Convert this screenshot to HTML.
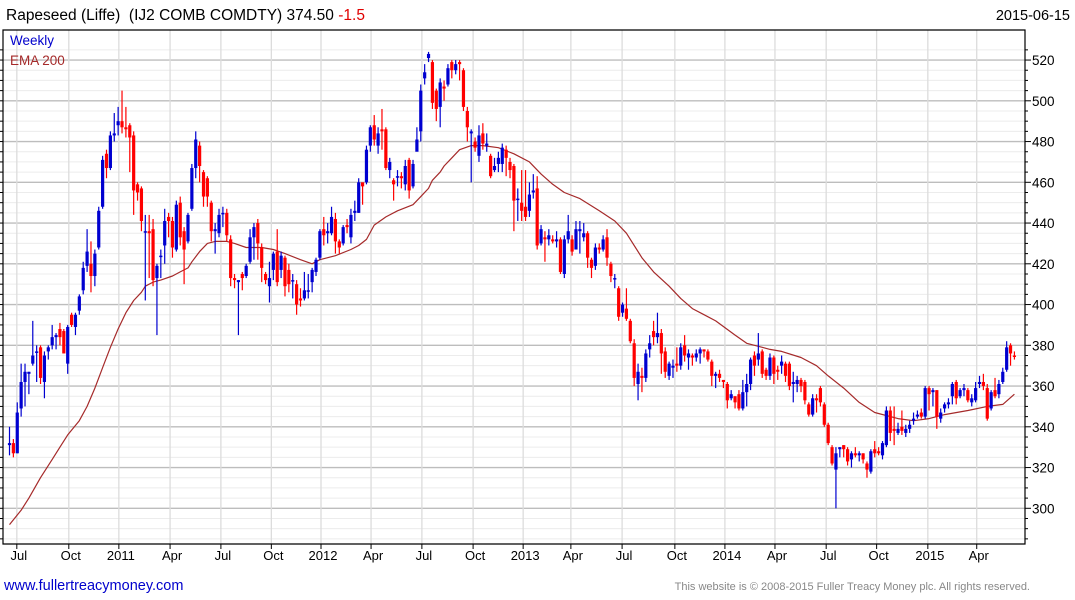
<!DOCTYPE html>
<html><head><meta charset="utf-8"><style>
html,body{margin:0;padding:0;background:#fff;}
svg{display:block;font-family:"Liberation Sans",Arial,sans-serif;}
</style></head><body>
<svg id="chart" width="1075" height="600" viewBox="0 0 1075 600" xmlns="http://www.w3.org/2000/svg">
<rect x="0" y="0" width="1075" height="600" fill="#fff"/>
<g id="grid"></g>
<g id="ema"></g>
<g id="candles"></g>
<g id="axes"></g>
<text x="6" y="20" font-size="15.5" fill="#000" style="white-space:pre">Rapeseed (Liffe)&#160; (IJ2 COMB COMDTY) 374.50 <tspan fill="#e00000">-1.5</tspan></text>
<text x="1070" y="20" font-size="14.5" fill="#000" text-anchor="end">2015-06-15</text>
<text x="10" y="45" font-size="13.5" fill="#0000cc">Weekly</text>
<text x="10" y="65" font-size="13.5" fill="#a52a2a">EMA 200</text>
<text x="4" y="590" font-size="14.5" fill="#0000cc">www.fullertreacymoney.com</text>
<text x="1030" y="590" font-size="11" fill="#888" text-anchor="end">This website is © 2008-2015 Fuller Treacy Money plc. All rights reserved.</text>
</svg>
<script>
const opens=[331,332,327,349,362,366,371,377,379,362,377,380,384,388,387,371,395,389,397,407,419,420,414,428,448,474,467,483,488,490,487,488,483,459,457,436,436,437,413,424,429,443,441,427,450,436,431,447,467,478,465,462,450,436,435,445,445,432,413,411,415,414,421,433,440,428,415,409,417,426,417,423,417,412,410,403,403,407,411,416,423,437,435,435,442,431,430,439,433,445,445,460,460,478,488,478,486,486,466,461,463,463,459,471,458,475,485,511,521,519,505,497,507,508,519,515,519,515,495,484,480,473,484,478,473,466,469,469,476,470,468,452,450,448,446,455,457,430,433,432,432,431,432,415,432,432,427,436,433,435,422,419,428,427,433,420,413,408,396,398,392,381,361,365,364,378,387,384,386,377,365,369,371,370,380,374,375,374,376,378,377,372,365,366,363,361,354,355,356,349,357,361,375,373,377,368,365,374,368,370,371,371,361,361,363,362,351,346,354,359,351,341,330,319,329,331,329,324,327,326,327,322,318,329,328,326,331,348,339,337,340,337,339,343,345,347,345,359,357,358,344,349,351,355,362,355,358,358,352,353,361,362,359,349,358,356,362,368,380,375];
const closes=[332,327,347,362,367,367,375,377,364,375,379,384,385,384,376,389,390,395,404,418,426,414,425,446,471,467,483,484,490,487,486,482,456,455,441,436,435,412,419,424,441,441,428,449,433,427,444,467,481,468,453,453,436,437,444,445,434,413,412,412,413,419,433,438,430,418,412,413,425,411,424,409,410,412,400,402,407,407,417,422,436,434,436,443,431,428,438,438,444,446,460,458,476,487,481,484,485,467,470,459,463,462,468,456,469,481,505,514,523,499,496,509,506,516,515,518,518,497,487,485,477,483,479,479,463,468,472,477,472,466,451,452,446,443,454,456,429,437,432,434,431,432,416,432,436,426,437,437,435,423,418,428,427,432,423,414,413,394,400,393,382,364,367,364,376,381,384,386,376,367,371,370,370,379,375,376,374,376,378,377,373,365,366,364,362,353,356,352,349,357,361,373,370,376,366,365,374,366,367,372,365,360,362,363,360,353,346,354,353,352,341,332,322,327,330,329,323,327,326,327,324,319,328,327,327,332,348,337,338,339,338,339,341,344,346,345,359,356,358,345,347,351,352,361,354,358,359,353,354,359,362,360,344,357,355,361,367,379,376,374.5];
const highs=[340,334,352,371,371,367,392,380,380,377,380,390,386,391,388,390,396,396,405,421,437,431,427,448,473,476,485,494,497,505,497,489,485,460,458,444,444,442,420,427,447,445,443,451,453,438,445,469,485,480,466,463,451,440,447,448,447,434,415,412,416,420,437,440,442,430,416,421,426,437,426,424,420,415,412,408,416,415,418,423,437,443,440,448,445,432,439,442,447,451,462,459,478,488,493,487,496,487,472,462,466,465,471,472,471,487,508,518,524,520,506,511,510,518,520,520,520,516,497,486,482,488,489,484,474,472,475,479,478,472,469,457,466,466,460,464,463,439,436,437,434,436,433,434,444,434,441,441,440,436,423,430,430,434,437,421,415,409,401,408,393,383,371,369,378,385,392,396,388,379,372,373,379,381,385,378,376,378,379,378,378,373,367,368,363,362,358,355,358,363,366,374,377,386,378,369,376,375,370,375,372,372,367,365,364,363,352,356,356,360,352,342,331,330,330,331,330,328,330,328,327,323,329,333,330,333,350,350,350,342,348,341,343,347,348,349,360,360,359,358,349,352,354,362,363,359,361,359,356,362,365,366,361,358,364,363,369,382,381,377];
const lows=[326,325,327,345,350,356,370,362,361,354,373,378,378,380,376,366,389,385,395,405,416,406,409,427,447,462,466,480,483,484,482,465,444,451,436,402,413,409,385,413,420,433,423,426,429,410,430,446,462,460,448,448,431,425,433,438,431,409,408,385,407,413,420,422,422,411,410,401,412,409,413,404,406,403,395,399,402,403,406,414,422,429,430,434,425,425,429,435,430,441,445,449,459,475,478,474,476,466,462,451,458,457,456,452,457,480,480,508,519,496,490,487,500,507,511,513,510,495,480,460,475,470,476,475,462,465,465,465,463,462,436,441,441,441,443,452,427,429,421,429,430,428,415,413,430,424,428,425,431,418,413,417,425,426,419,411,408,392,394,392,381,360,353,357,362,374,380,381,366,364,363,364,367,368,372,368,370,372,371,374,372,360,359,362,359,349,353,349,348,348,350,358,365,370,364,363,363,361,363,366,362,358,352,357,357,351,345,345,347,350,340,331,321,300,325,325,321,320,325,323,322,315,317,325,326,324,330,333,331,336,336,335,337,341,344,344,344,348,350,339,342,347,349,351,351,354,355,352,350,352,359,358,343,348,354,354,361,367,370,373];
const emaWeeks=[0,3,5,8,11,13,15,18,20,22,24,26,28,30,32,34,35,37,39,42,44,46,47,49,51,53,56,58,61,65,68,71,75,78,80,84,88,90,92,94,97,100,104,106,108,109,111,112,114,116,119,122,126,130,134,137,140,143,147,152,156,159,163,166,170,173,176,179,182,187,190,194,196,199,204,208,211,215,219,223,227,229,233,237,241,247,252,256,259];
const emaValues=[292,299,305,315,324,330,336,343,350,359,369,379,388,396,402,406,409,411,412,414,416,418,421,426,430,431,431,430,428,428,427,425,422,420,422,424,427,429,432,439,443,446,449,453,457,461,465,468,472,476,478,478,477,474,470,464,459,455,452,446,441,435,423,416,409,403,398,395,392,385,381,379,378,377,374,370,365,359,352,347,345,344,343,344,346,348,350,351,356];
const yTicks=[300,320,340,360,380,400,420,440,460,480,500,520];
const xTickLabels=["Jul","Oct","2011","Apr","Jul","Oct","2012","Apr","Jul","Oct","2013","Apr","Jul","Oct","2014","Apr","Jul","Oct","2015","Apr"];
const xTickWeeks=[2.4,15.8,28.7,41.9,55,68,80.8,93.7,106.8,120,132.9,145.2,158.4,172,184.9,197.8,211,224,237.2,249.8];

const NS="http://www.w3.org/2000/svg";
const L=3,R=1025,T=30,B=544;
function X(i){return 9.5+i*3.88;}
function Y(v){return 508.3-(v-300)*2.0375;}
function mk(tag,attrs,parent){const e=document.createElementNS(NS,tag);for(const k in attrs)e.setAttribute(k,attrs[k]);parent.appendChild(e);return e;}
const grid=document.getElementById('grid'),axes=document.getElementById('axes'),cg=document.getElementById('candles'),eg=document.getElementById('ema');
for(let v=285;v<=525;v+=5){const y=Y(v);if(y<T||y>B)continue;const major=v%20===0;
 const ln=mk('line',{x1:L,x2:R,y1:y,y2:y,stroke:major?'#bdbdbd':'#ececec','stroke-width':major?1.3:1},grid);
 
 
 const tk=mk('line',{x1:R,x2:R+(major?6:3),y1:y,y2:y,stroke:'#000'},axes);
 
 
 const tl=mk('line',{x1:L-3,x2:L,y1:y,y2:y,stroke:'#000'},axes);
 
 }
yTicks.forEach(v=>{const t=mk('text',{x:R+7,y:Y(v)+5,'font-size':13.5,fill:'#000'},axes);t.textContent=v;
 
 });
xTickWeeks.forEach((w,k)=>{const x=X(w);
 const ln=mk('line',{x1:x-2,x2:x-2,y1:T,y2:B,stroke:'#dcdcdc','stroke-width':1.3},grid);
 
 
 const tk=mk('line',{x1:x-2,x2:x-2,y1:B,y2:B+5,stroke:'#000'},axes);
 
 
 const t=mk('text',{x:x,y:B+16,'font-size':13,fill:'#000','text-anchor':'middle'},axes);t.textContent=xTickLabels[k];
 
 });
const fr=mk('path',{d:`M${L} ${T} H${R} V${B} H${L} Z`,fill:'none',stroke:'#000','stroke-width':1.2},axes);


const pts=emaWeeks.map((w,k)=>X(w).toFixed(1)+','+Y(emaValues[k]).toFixed(1)).join(' ');
const pl=mk('polyline',{points:pts,fill:'none',stroke:'#a52a2a','stroke-width':1.2,'stroke-linejoin':'round'},eg);


closes.forEach((c,i)=>{const o=opens[i],x=X(i),up=c>=o,col=up?'#0000d0':'#ff0000';
 const g=mk('g',{},cg);
 
 
 mk('line',{x1:x,x2:x,y1:Y(highs[i]),y2:Y(lows[i]),stroke:col,'stroke-width':1.2},g);
 const top=Y(Math.max(o,c)),h=Math.max(1.5,Math.abs(Y(o)-Y(c)));
 mk('rect',{x:x-1.6,y:top,width:3.2,height:h,fill:col},g);});
</script>
</body></html>
